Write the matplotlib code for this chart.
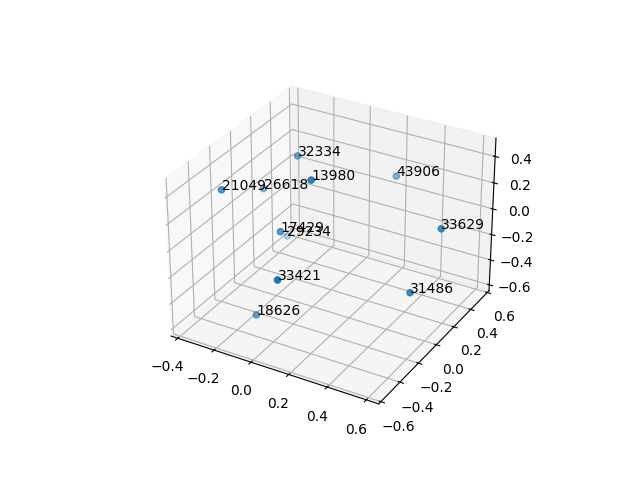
import matplotlib
matplotlib.use('Agg')
import matplotlib.pyplot as plt

labels = [32334, 13980, 43906, 21049, 26618, 33629, 17429, 29234, 33421, 31486, 18626]
xs = [-0.179, 0.0825, 0.184, -0.356, -0.367, 0.5925, -0.098, -0.338, 0.1055, 0.5455, -0.147]
ys = [0.197, -0.162, 0.543, -0.239, 0.189, 0.175, -0.136, 0.375, -0.543, -0.056, -0.301]
zs = [0.333, 0.462, 0.114, 0.265, 0.013, 0.098, -0.012, -0.468, -0.027, -0.257, -0.572]

fig = plt.figure()
ax = fig.add_subplot(projection='3d')
ax.scatter(xs, ys, zs)

# label every point
for x, y, z, label in zip(xs, ys, zs, labels):
    ax.text(x, y, z, str(label))

plt.savefig('out.png')
